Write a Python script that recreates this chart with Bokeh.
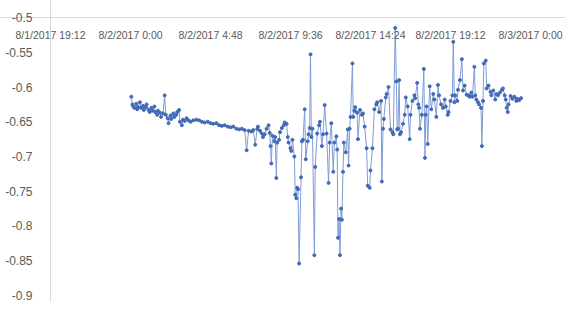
from bokeh.plotting import figure
from bokeh.models import Range1d, LinearAxis, FixedTicker
from bokeh.embed import file_html
from bokeh.resources import INLINE

# minutes after 8/2/2017 0:00
minutes = [3, 7, 10, 14, 21, 24, 27, 34, 38, 45,
           48, 55, 58, 65, 69, 75, 79, 86, 89, 96,
           99, 106, 110, 117, 123, 127, 134, 137, 144, 147,
           154, 158, 165, 168, 175, 178, 185, 189, 195, 202,
           209, 216, 226, 237, 247, 257, 267, 278, 288, 298,
           309, 319, 329, 339, 350, 360, 370, 381, 391, 401,
           411, 418, 425, 435, 442, 449, 456, 459, 466, 473,
           477, 483, 490, 497, 501, 504, 507, 511, 518, 521,
           525, 528, 535, 538, 545, 552, 555, 562, 566, 569,
           576, 579, 583, 590, 593, 597, 600, 603, 607, 614,
           617, 621, 627, 631, 638, 641, 645, 648, 651, 655,
           662, 665, 672, 679, 682, 689, 693, 699, 706, 713,
           717, 723, 730, 734, 741, 744, 747, 751, 754, 758,
           761, 765, 768, 775, 782, 785, 789, 792, 799, 802,
           806, 809, 816, 819, 826, 833, 837, 843, 850, 854,
           861, 864, 871, 878, 885, 888, 895, 902, 905, 909,
           912, 919, 922, 929, 936, 943, 946, 953, 957, 960,
           963, 967, 970, 974, 981, 987, 991, 998, 1005, 1008,
           1015, 1022, 1025, 1032, 1036, 1039, 1042, 1049, 1056, 1060,
           1063, 1066, 1070, 1077, 1083, 1090, 1094, 1101, 1107, 1111,
           1118, 1125, 1131, 1135, 1142, 1145, 1152, 1159, 1162, 1166,
           1169, 1176, 1179, 1186, 1193, 1197, 1203, 1210, 1217, 1221,
           1227, 1231, 1238, 1241, 1245, 1251, 1255, 1262, 1265, 1269,
           1272, 1279, 1282, 1289, 1296, 1299, 1306, 1313, 1317, 1323,
           1330, 1337, 1341, 1347, 1351, 1354, 1358, 1361, 1368, 1375,
           1382, 1389, 1392, 1399, 1406]

tilt = [-0.614, -0.625, -0.628, -0.630, -0.624, -0.632, -0.629, -0.622, -0.630, -0.627,
        -0.633, -0.629, -0.625, -0.633, -0.636, -0.630, -0.634, -0.628, -0.636, -0.640,
        -0.634, -0.637, -0.643, -0.638, -0.612, -0.640, -0.645, -0.652, -0.641, -0.646,
        -0.638, -0.643, -0.640, -0.636, -0.633, -0.650, -0.655, -0.647, -0.649, -0.645,
        -0.648, -0.650, -0.648, -0.647, -0.648, -0.650, -0.651, -0.650, -0.652, -0.653,
        -0.652, -0.655, -0.656, -0.655, -0.657, -0.658, -0.657, -0.660, -0.661, -0.660,
        -0.662, -0.691, -0.663, -0.664, -0.662, -0.683, -0.660, -0.657, -0.663, -0.667,
        -0.672, -0.668, -0.660, -0.655, -0.666, -0.685, -0.710, -0.670, -0.678, -0.672,
        -0.731, -0.680, -0.676, -0.665, -0.659, -0.655, -0.651, -0.653, -0.672, -0.680,
        -0.688, -0.692, -0.676, -0.700, -0.755, -0.760, -0.745, -0.747, -0.854, -0.730,
        -0.678, -0.676, -0.632, -0.704, -0.678, -0.668, -0.659, -0.553, -0.672, -0.660,
        -0.842, -0.715, -0.667, -0.655, -0.650, -0.685, -0.668, -0.626, -0.667, -0.738,
        -0.680, -0.652, -0.722, -0.680, -0.671, -0.690, -0.817, -0.790, -0.842, -0.775,
        -0.791, -0.722, -0.680, -0.694, -0.661, -0.713, -0.660, -0.643, -0.566, -0.643,
        -0.634, -0.629, -0.637, -0.675, -0.633, -0.640, -0.638, -0.657, -0.688, -0.742,
        -0.745, -0.720, -0.688, -0.632, -0.625, -0.622, -0.636, -0.620, -0.736, -0.660,
        -0.646, -0.615, -0.610, -0.600, -0.661, -0.665, -0.668, -0.515, -0.592, -0.661,
        -0.660, -0.590, -0.668, -0.665, -0.653, -0.640, -0.615, -0.628, -0.675, -0.640,
        -0.620, -0.612, -0.616, -0.594, -0.625, -0.630, -0.660, -0.640, -0.574, -0.702,
        -0.640, -0.628, -0.682, -0.599, -0.632, -0.610, -0.618, -0.643, -0.597, -0.612,
        -0.625, -0.630, -0.618, -0.628, -0.640, -0.636, -0.620, -0.612, -0.535, -0.622,
        -0.612, -0.620, -0.604, -0.590, -0.560, -0.605, -0.598, -0.611, -0.612, -0.614,
        -0.608, -0.614, -0.571, -0.612, -0.618, -0.622, -0.625, -0.630, -0.685, -0.620,
        -0.566, -0.562, -0.602, -0.598, -0.607, -0.612, -0.605, -0.618, -0.610, -0.612,
        -0.608, -0.604, -0.602, -0.612, -0.618, -0.630, -0.636, -0.625, -0.613, -0.617,
        -0.614, -0.620, -0.617, -0.619, -0.616]

x_ticks = [-288, 0, 288, 576, 864, 1152, 1440]
x_tick_labels = ["8/1/2017 19:12", "8/2/2017 0:00", "8/2/2017 4:48", "8/2/2017 9:36",
                 "8/2/2017 14:24", "8/2/2017 19:12", "8/3/2017 0:00"]
y_ticks = [-0.9, -0.85, -0.8, -0.75, -0.7, -0.65, -0.6, -0.55, -0.5]
y_tick_labels = ["-0.9", "-0.85", "-0.8", "-0.75", "-0.7", "-0.65", "-0.6", "-0.55", "-0.5"]

assert len(minutes) == len(tilt)

# frame covers the whole figure; both axes are drawn at fixed data locations
p = figure(width=565, height=302, output_backend="svg", toolbar_location=None,
           x_range=Range1d(-468, 1566), y_range=Range1d(-0.9101, -0.4755),
           x_axis_location=None, y_axis_location=None,
           min_border_left=0, min_border_right=0, min_border_top=0, min_border_bottom=0)
p.outline_line_color = None
p.xgrid.visible = False
p.ygrid.visible = False
p.background_fill_color = "white"
p.border_fill_color = "white"

FONT = "Liberation Sans"
LABEL_COLOR = "#595959"

yaxis = LinearAxis(ticker=FixedTicker(ticks=y_ticks),
                   major_label_overrides=dict(zip(y_ticks, y_tick_labels)),
                   fixed_location=-288)
yaxis.axis_line_color = "#D9D9D9"
yaxis.major_tick_line_color = None
yaxis.minor_tick_line_color = None
yaxis.major_label_text_font = FONT
yaxis.major_label_text_font_size = "12px"
yaxis.major_label_text_color = LABEL_COLOR
yaxis.major_label_standoff = 12
p.add_layout(yaxis, "left")

xaxis = LinearAxis(ticker=FixedTicker(ticks=x_ticks),
                   major_label_overrides=dict(zip(x_ticks, x_tick_labels)),
                   fixed_location=-0.5)
xaxis.axis_line_color = "#D9D9D9"
xaxis.major_tick_line_color = None
xaxis.minor_tick_line_color = None
xaxis.major_label_text_font = FONT
xaxis.major_label_text_font_size = "10.5px"
xaxis.major_label_text_color = LABEL_COLOR
xaxis.major_label_standoff = 5
p.add_layout(xaxis, "below")

p.line(minutes, tilt, line_color="#7F9BD6", line_width=1)
p.scatter(minutes, tilt, size=3, fill_color="#4169B4", line_color="#4169B4")

open("out.html", "w").write(file_html(p, INLINE))
